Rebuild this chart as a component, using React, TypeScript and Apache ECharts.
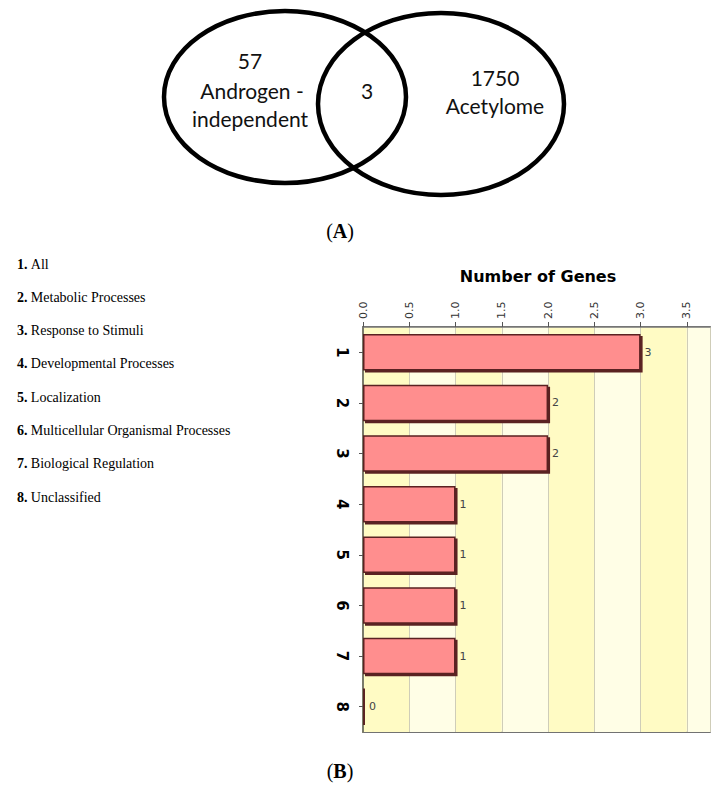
import React, { useEffect, useRef } from "react";
import * as echarts from "echarts";

const categories = ["1", "2", "3", "4", "5", "6", "7", "8"];
const geneCounts = [3, 2, 2, 1, 1, 1, 1, 0];
const processNames = [
  "All",
  "Metabolic Processes",
  "Response to Stimuli",
  "Developmental Processes",
  "Localization",
  "Multicellular Organismal Processes",
  "Biological Regulation",
  "Unclassified",
];
const vennLeftCount = "57";
const vennLeftLabel = ["Androgen -", "independent"];
const vennOverlap = "3";
const vennRightCount = "1750";
const vennRightLabel = "Acetylome";

export default function App() {
  const ref = useRef<HTMLDivElement>(null);
  useEffect(() => {
    if (!ref.current) return;
    const chart = echarts.init(ref.current, null, { renderer: "svg" });
    const vennFont = "Lato, 'Open Sans', sans-serif";
    const legendItems = processNames.map((name, i) => ({
      type: "text",
      left: 17,
      top: 257 + i * 33.3,
      style: {
        text: `{b|${i + 1}.} {n|${name}}`,
        rich: {
          b: { fontFamily: "'Liberation Serif', serif", fontWeight: "bold", fontSize: 14, fill: "#000" },
          n: { fontFamily: "'Liberation Serif', serif", fontSize: 14, fill: "#000" },
        },
      },
    }));
    chart.setOption({
      animation: false,
      backgroundColor: "#ffffff",
      grid: {
        left: 363,
        right: 13,
        top: 327,
        bottom: 58,
        show: true,
        borderColor: "#444444",
        borderWidth: 1.5,
        backgroundColor: "transparent",
      },
      xAxis: {
        type: "value",
        position: "top",
        min: 0,
        max: 3.75,
        interval: 0.5,
        axisLine: { show: true, lineStyle: { color: "#777777", width: 1.5 } },
        axisTick: { show: true, length: 5, lineStyle: { color: "#555555" } },
        axisLabel: {
          rotate: -90,
          showMaxLabel: false,
          margin: 8,
          fontSize: 11,
          color: "#333333",
          fontFamily: "'DejaVu Sans', sans-serif",
          formatter: (v: number) => v.toFixed(1),
        },
        splitLine: { show: true, lineStyle: { color: "#cfcdb8", width: 1 } },
        splitArea: { show: true, areaStyle: { color: ["#fffbc4", "#fffee6"] } },
      },
      yAxis: {
        type: "category",
        data: categories,
        inverse: true,
        axisLine: { show: true, lineStyle: { color: "#7a7a6a", width: 2 } },
        axisTick: { show: true, alignWithLabel: true, length: 4, lineStyle: { color: "#555555" } },
        axisLabel: {
          rotate: -90,
          margin: 14,
          fontSize: 15,
          fontWeight: "bold",
          color: "#000",
          fontFamily: "'DejaVu Sans', sans-serif",
        },
        splitLine: { show: false },
      },
      series: [
        {
          type: "bar",
          data: geneCounts,
          barWidth: "72%",
          barMinHeight: 2,
          itemStyle: {
            color: "#ff8e8e",
            borderColor: "#5a2020",
            borderWidth: 1.5,
            shadowColor: "#5a2020",
            shadowOffsetX: 2,
            shadowOffsetY: 2,
            shadowBlur: 0,
          },
          label: {
            show: true,
            position: "right",
            distance: 4,
            fontSize: 11,
            color: "#444",
            fontFamily: "'DejaVu Sans', sans-serif",
          },
        },
      ],
      graphic: [
        {
          type: "ellipse",
          shape: { cx: 285, cy: 97, rx: 121, ry: 86 },
          style: { fill: "none", stroke: "#000", lineWidth: 4.5 },
        },
        {
          type: "ellipse",
          shape: { cx: 441, cy: 104, rx: 123, ry: 91 },
          style: { fill: "none", stroke: "#000", lineWidth: 4.5 },
        },
        {
          type: "text",
          x: 250,
          y: 60,
          style: { text: vennLeftCount, font: `21px ${vennFont}`, fill: "#111", align: "center", verticalAlign: "middle" },
        },
        {
          type: "text",
          x: 252,
          y: 90,
          style: { text: vennLeftLabel[0], font: `21px ${vennFont}`, fill: "#111", align: "center", verticalAlign: "middle" },
        },
        {
          type: "text",
          x: 250,
          y: 118,
          style: { text: vennLeftLabel[1], font: `21px ${vennFont}`, fill: "#111", align: "center", verticalAlign: "middle" },
        },
        {
          type: "text",
          x: 367,
          y: 90,
          style: { text: vennOverlap, font: `21px ${vennFont}`, fill: "#111", align: "center", verticalAlign: "middle" },
        },
        {
          type: "text",
          x: 495,
          y: 77,
          style: { text: vennRightCount, font: `21px ${vennFont}`, fill: "#111", align: "center", verticalAlign: "middle" },
        },
        {
          type: "text",
          x: 495,
          y: 105,
          style: { text: vennRightLabel, font: `21px ${vennFont}`, fill: "#111", align: "center", verticalAlign: "middle" },
        },
        {
          type: "text",
          x: 340,
          y: 231,
          style: {
            text: "{p|(}{b|A}{p|)}",
            align: "center",
            verticalAlign: "middle",
            rich: {
              p: { fontFamily: "'Liberation Serif', serif", fontSize: 20, fill: "#000" },
              b: { fontFamily: "'Liberation Serif', serif", fontSize: 20, fontWeight: "bold", fill: "#000" },
            },
          },
        },
        {
          type: "text",
          x: 340,
          y: 771,
          style: {
            text: "{p|(}{b|B}{p|)}",
            align: "center",
            verticalAlign: "middle",
            rich: {
              p: { fontFamily: "'Liberation Serif', serif", fontSize: 20, fill: "#000" },
              b: { fontFamily: "'Liberation Serif', serif", fontSize: 20, fontWeight: "bold", fill: "#000" },
            },
          },
        },
        {
          type: "text",
          x: 538,
          y: 276,
          style: {
            text: "Number of Genes",
            font: "bold 16px 'DejaVu Sans', sans-serif",
            fill: "#000",
            align: "center",
            verticalAlign: "middle",
          },
        },
        ...legendItems,
      ],
    });
    return () => chart.dispose();
  }, []);
  return (
    <div
      ref={ref}
      style={{ position: "absolute", left: 0, top: 0, width: 723, height: 790 }}
    />
  );
}
